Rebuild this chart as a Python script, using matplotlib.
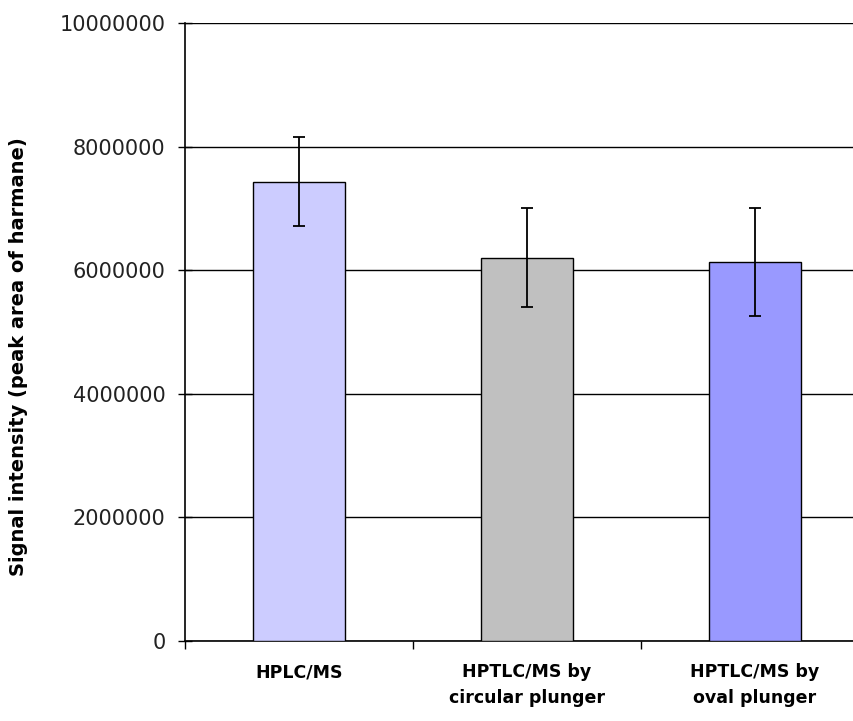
import numpy as np
import matplotlib
matplotlib.use("Agg")
from matplotlib import pyplot as plt

categories = ["HPLC/MS", "HPTLC/MS by\ncircular plunger", "HPTLC/MS by\noval plunger"]
signal = [7430000, 6200000, 6130000]
errors = [720000, 800000, 870000]
colors = ["#CCCCFF", "#C0C0C0", "#9999FF"]
yticks = [0, 2000000, 4000000, 6000000, 8000000, 10000000]

plt.rcParams['font.family'] = ['DejaVu Sans']

fig = plt.figure(figsize=(8.54, 7.21), dpi=100)
# axes runs a bit past the right edge, as in the cropped original
ax = fig.add_axes([185 / 854, 80 / 721, 684 / 854, 618 / 721])

ind = np.arange(len(categories))
ax.bar(ind, signal, 0.4, color=colors, edgecolor="black", linewidth=1, zorder=3)
ax.errorbar(ind, signal, yerr=errors, fmt="none", ecolor="black",
            elinewidth=1.3, capsize=4, capthick=1.3, zorder=4)

ax.set_xlim(-0.5, 2.5)
ax.set_ylim(0, 10000000)
ax.set_yticks(yticks)
ax.set_yticklabels([str(v) for v in yticks], fontsize=15, color="#222222")
ax.yaxis.grid(True, color="black", linewidth=1, zorder=0)
ax.set_axisbelow(True)

ax.set_xticks([-0.5, 0.5, 1.5], minor=False)
ax.set_xticklabels([])
ax.set_xticks(ind, minor=True)
ax.set_xticklabels(categories, minor=True, fontsize=12.5, fontweight="bold",
                   linespacing=1.55)
ax.tick_params(axis="x", which="minor", length=0, pad=16)
ax.tick_params(axis="x", which="major", direction="out", length=6, width=1)
ax.tick_params(axis="y", direction="inout", length=10, width=1, pad=9)

ax.set_ylabel("Signal intensity (peak area of harmane)", fontsize=14,
              fontweight="bold", va="center")
ax.yaxis.set_label_coords(-0.244, 0.46)

ax.spines["top"].set_visible(False)
ax.spines["right"].set_visible(False)
ax.spines["left"].set_linewidth(1.2)
ax.spines["bottom"].set_linewidth(1.2)

fig.savefig("out.png", dpi=100)
